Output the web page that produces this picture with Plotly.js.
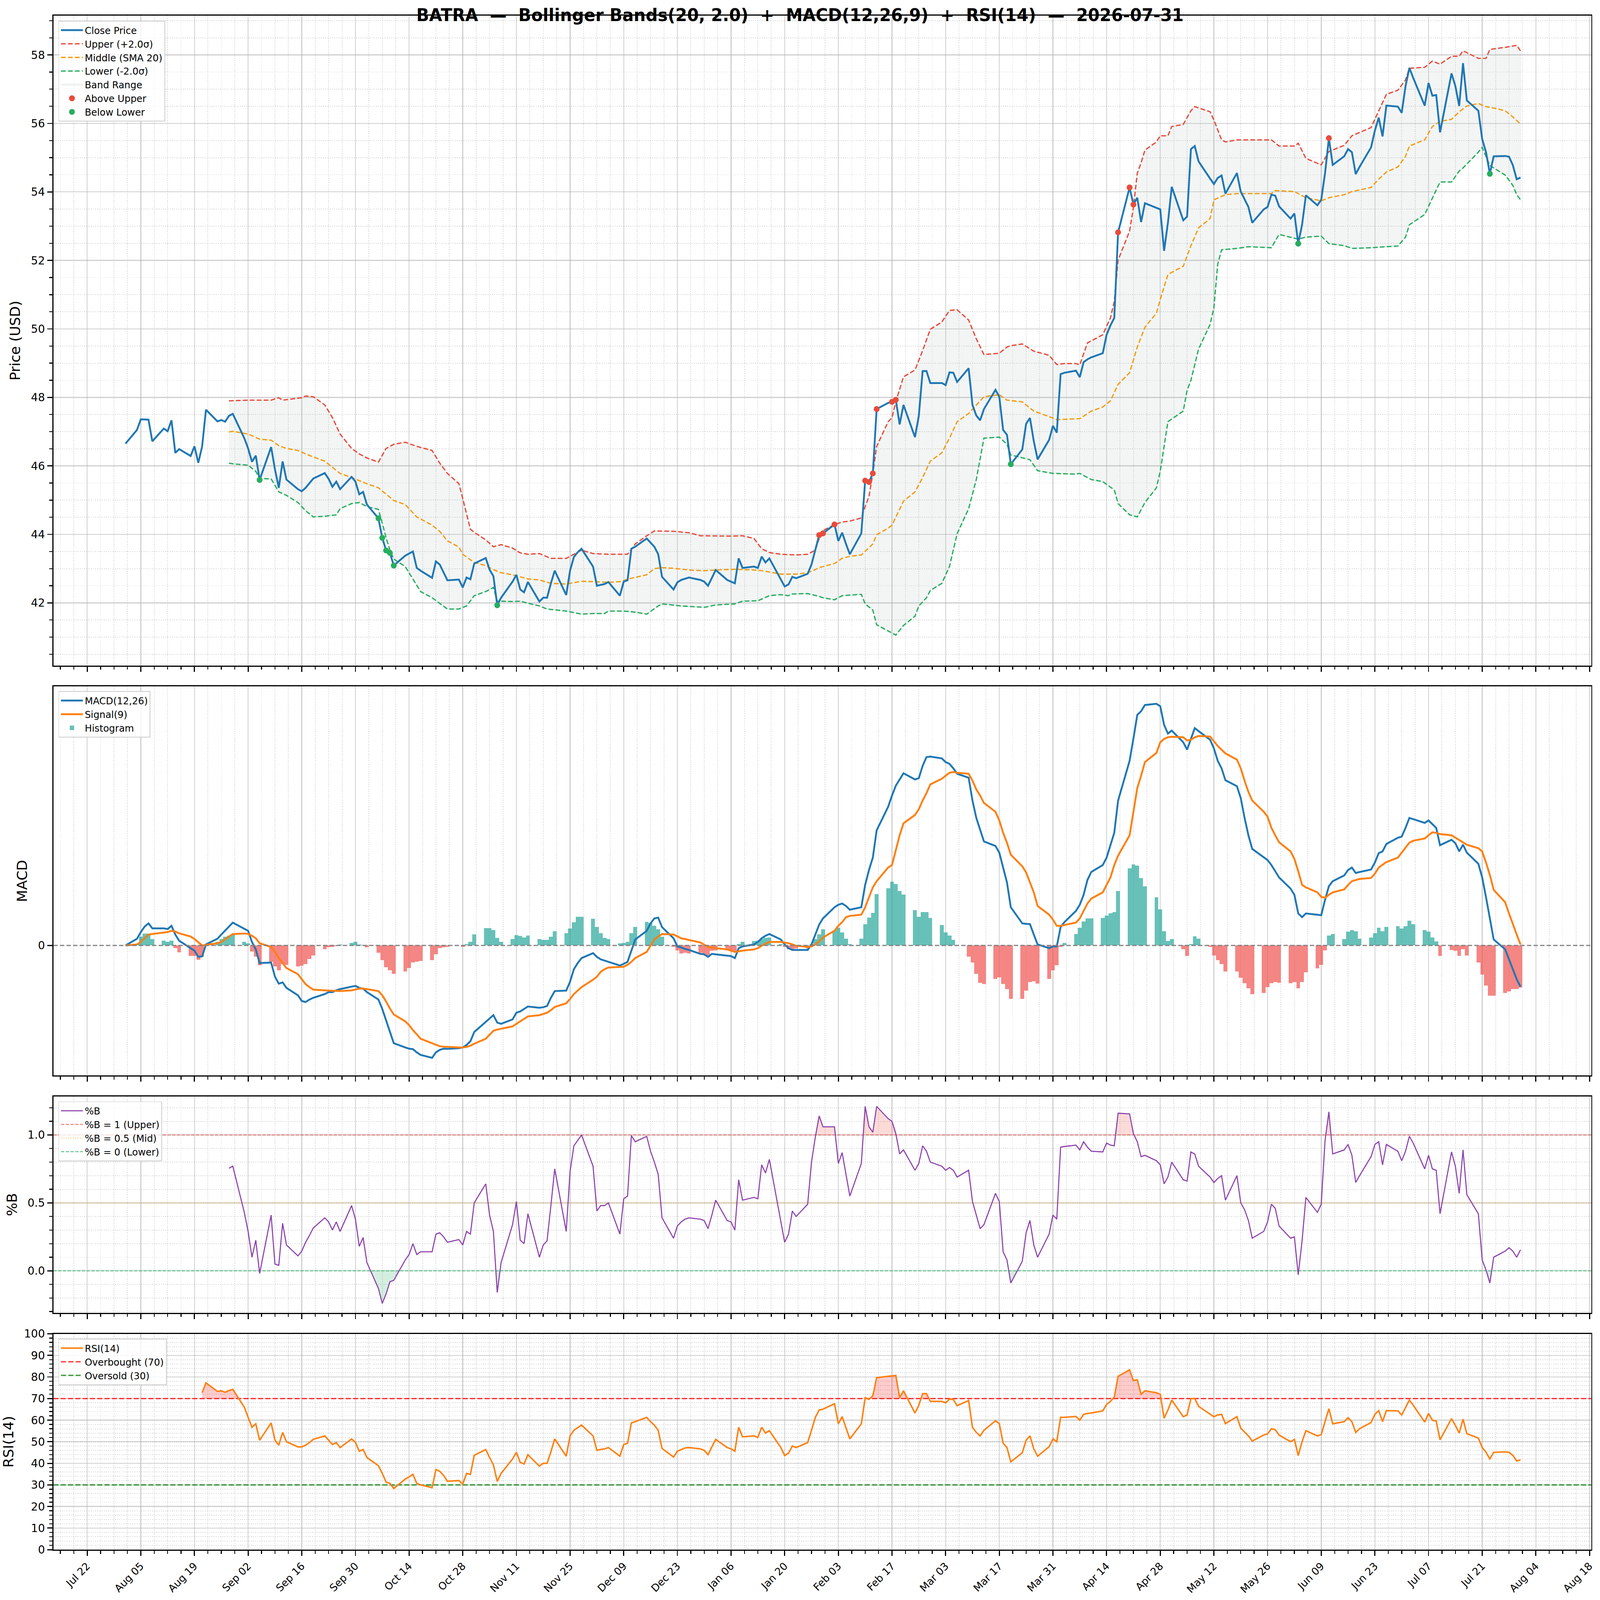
<!DOCTYPE html>
<html>
<head>
<meta charset="utf-8">
<script src="https://cdn.plot.ly/plotly-3.0.1.min.js"></script>
<style>html,body{margin:0;padding:0;background:#fff;overflow:hidden;}#wrap{transform-origin:0 0;width:4378px;height:4322px;}#chart{width:4378px;height:4322px;}</style>
</head>
<body>
<div id="wrap"><div id="chart"></div></div>
<script>
// ---------------- DATA ----------------
const startDate = '2025-08-01';
const endDate = '2026-07-31';

const close = [
  46.65,47.05,47.36,47.35,47.35,46.72,47.09,47.01,47.33,46.38,46.49,46.29,46.57,46.09,46.57,47.64,47.30,47.34,47.29,47.46,47.52,
  46.81,46.51,46.12,46.30,45.59,46.55,45.90,45.36,46.13,45.60,45.32,45.26,45.36,45.50,45.63,45.79,45.62,45.39,45.54,45.32,45.68,45.54,
  45.17,45.24,44.87,44.47,43.90,43.53,43.46,43.09,43.38,43.44,43.50,43.02,42.94,42.73,43.21,43.12,42.88,42.66,42.68,42.45,42.74,42.69,43.15,
  43.31,42.97,42.78,41.93,42.15,42.62,42.82,42.39,42.31,42.61,42.04,42.15,42.15,42.57,42.94,42.23,42.94,43.34,43.48,43.58,
  43.06,42.50,42.53,42.55,42.61,42.21,42.62,42.66,43.58,43.64,43.88,43.75,43.64,43.42,42.76,42.39,42.60,42.67,42.71,42.74,42.67,42.62,42.50,
  42.72,42.96,42.67,42.62,42.57,43.30,43.02,43.06,43.02,43.35,43.18,43.30,42.69,42.48,42.54,42.76,42.72,42.85,43.12,43.54,43.98,44.03,
  44.29,43.81,44.05,43.72,43.42,44.03,45.57,45.53,45.78,47.66,47.84,47.87,47.93,47.21,47.78,46.84,47.46,48.77,48.77,48.42,
  48.42,48.36,48.73,48.72,48.45,48.85,47.78,47.47,47.33,47.66,48.22,48.02,47.05,46.91,46.05,46.48,47.23,47.40,46.72,46.19,46.76,47.17,
  46.97,48.68,48.72,48.78,48.59,49.03,49.11,49.17,49.29,49.83,50.10,50.32,52.82,54.13,53.63,53.83,53.12,53.67,53.54,53.49,52.28,53.10,
  54.15,53.17,53.28,55.25,55.34,54.89,54.39,54.23,54.41,54.48,53.95,54.55,54.01,53.79,53.56,53.10,53.49,53.56,53.92,53.89,53.58,
  53.22,53.37,52.49,53.04,53.90,53.61,53.77,54.55,55.57,54.79,55.04,55.25,55.16,54.52,54.73,55.30,55.79,56.17,55.62,56.52,56.49,56.31,
  57.09,57.62,57.33,56.52,57.18,56.81,56.83,55.74,57.46,57.09,56.51,57.76,56.67,56.37,55.54,55.16,54.53,55.04,55.05,55.03,54.78,54.37,54.42
];

const upperBand = [
  ['2025-08-28',47.90],['2025-09-02',47.92],['2025-09-08',47.92],['2025-09-10',47.99],['2025-09-11',47.92],['2025-09-16',47.99],
  ['2025-09-17',48.04],['2025-09-19',48.02],['2025-09-22',47.78],['2025-09-24',47.41],['2025-09-26',46.93],['2025-09-29',46.51],
  ['2025-10-01',46.35],['2025-10-03',46.23],['2025-10-06',46.11],['2025-10-08',46.51],['2025-10-10',46.63],['2025-10-13',46.69],
  ['2025-10-16',46.57],['2025-10-20',46.45],['2025-10-22',46.08],['2025-10-24',45.78],['2025-10-27',45.48],['2025-10-28',45.05],
  ['2025-10-30',44.15],['2025-10-31',44.06],['2025-11-03',43.84],['2025-11-05',43.64],['2025-11-07',43.70],['2025-11-10',43.60],
  ['2025-11-12',43.46],['2025-11-14',43.42],['2025-11-17',43.44],['2025-11-20',43.30],['2025-11-24',43.30],['2025-11-26',43.42],
  ['2025-11-28',43.54],['2025-12-01',43.44],['2025-12-05',43.42],['2025-12-10',43.42],['2025-12-12',43.72],['2025-12-15',43.96],
  ['2025-12-17',44.10],['2025-12-22',44.09],['2025-12-26',44.05],['2025-12-29',43.96],['2026-01-06',43.95],['2026-01-09',43.96],
  ['2026-01-12',43.88],['2026-01-14',43.58],['2026-01-16',43.47],['2026-01-19',43.42],['2026-01-23',43.40],['2026-01-26',43.42],
  ['2026-01-28',43.54],['2026-01-29',43.88],['2026-01-30',44.11],['2026-02-02',44.29],['2026-02-04',44.36],['2026-02-06',44.39],
  ['2026-02-09',44.48],['2026-02-10',44.81],['2026-02-11',45.11],['2026-02-12',45.78],['2026-02-13',46.57],['2026-02-16',47.29],
  ['2026-02-17',47.41],['2026-02-18',47.88],['2026-02-20',48.60],['2026-02-23',48.80],['2026-02-25',49.37],['2026-02-27',49.99],
  ['2026-03-02',50.20],['2026-03-04',50.54],['2026-03-06',50.56],['2026-03-09',50.26],['2026-03-11',49.71],['2026-03-13',49.25],
  ['2026-03-17',49.29],['2026-03-19',49.47],['2026-03-20',49.51],['2026-03-23',49.56],['2026-03-26',49.35],['2026-03-30',49.23],
  ['2026-04-01',48.96],['2026-04-03',48.99],['2026-04-06',48.99],['2026-04-07',48.95],['2026-04-09',49.59],['2026-04-13',49.83],
  ['2026-04-15',50.32],['2026-04-16',50.80],['2026-04-17',52.01],['2026-04-20',52.86],['2026-04-21',53.55],['2026-04-22',54.55],
  ['2026-04-23',54.85],['2026-04-24',55.22],['2026-04-27',55.46],['2026-04-28',55.64],['2026-04-30',55.64],['2026-05-01',55.91],
  ['2026-05-04',55.97],['2026-05-06',56.37],['2026-05-07',56.49],['2026-05-11',56.34],['2026-05-12',56.10],['2026-05-14',55.52],
  ['2026-05-15',55.46],['2026-05-18',55.52],['2026-05-22',55.52],['2026-05-27',55.52],['2026-05-29',55.34],['2026-06-02',55.34],
  ['2026-06-03',55.42],['2026-06-05',54.98],['2026-06-09',54.79],['2026-06-11',55.18],['2026-06-15',55.36],['2026-06-17',55.64],
  ['2026-06-22',55.88],['2026-06-24',56.37],['2026-06-26',56.85],['2026-06-29',56.97],['2026-07-01',57.27],['2026-07-02',57.61],
  ['2026-07-06',57.64],['2026-07-08',57.82],['2026-07-10',57.73],['2026-07-13',57.96],['2026-07-15',57.96],['2026-07-16',58.12],
  ['2026-07-20',57.90],['2026-07-22',57.90],['2026-07-23',58.16],['2026-07-28',58.24],['2026-07-30',58.28],['2026-07-31',58.12]
];

const middleBand = [
  ['2025-08-28',46.99],['2025-08-29',47.01],['2025-09-02',46.93],['2025-09-05',46.78],['2025-09-08',46.75],['2025-09-10',46.59],
  ['2025-09-12',46.51],['2025-09-15',46.45],['2025-09-17',46.35],['2025-09-19',46.26],['2025-09-22',46.14],['2025-09-24',45.96],
  ['2025-09-26',45.78],['2025-09-29',45.66],['2025-10-01',45.57],['2025-10-03',45.48],['2025-10-06',45.36],['2025-10-08',45.17],
  ['2025-10-10',44.99],['2025-10-13',44.87],['2025-10-16',44.51],['2025-10-20',44.27],['2025-10-22',44.09],['2025-10-24',43.81],
  ['2025-10-27',43.63],['2025-10-28',43.42],['2025-10-31',43.18],['2025-11-03',43.09],['2025-11-05',42.97],['2025-11-07',42.88],
  ['2025-11-10',42.82],['2025-11-12',42.76],['2025-11-14',42.70],['2025-11-17',42.67],['2025-11-20',42.57],['2025-11-24',42.55],
  ['2025-11-28',42.63],['2025-12-01',42.62],['2025-12-05',42.60],['2025-12-08',42.62],['2025-12-11',42.72],['2025-12-15',42.82],
  ['2025-12-17',43.00],['2025-12-19',43.03],['2025-12-22',43.01],['2025-12-26',42.96],['2025-12-30',42.94],['2026-01-02',42.96],
  ['2026-01-07',42.98],['2026-01-12',42.96],['2026-01-14',42.94],['2026-01-16',42.90],['2026-01-19',42.84],['2026-01-23',42.84],
  ['2026-01-26',42.88],['2026-01-28',42.97],['2026-01-29',43.03],['2026-01-30',43.06],['2026-02-02',43.15],['2026-02-04',43.30],
  ['2026-02-06',43.36],['2026-02-09',43.40],['2026-02-12',43.72],['2026-02-13',43.99],['2026-02-16',44.18],['2026-02-17',44.27],
  ['2026-02-20',44.97],['2026-02-23',45.24],['2026-02-25',45.66],['2026-02-27',46.14],['2026-03-02',46.38],['2026-03-04',46.81],
  ['2026-03-06',47.29],['2026-03-09',47.53],['2026-03-11',47.78],['2026-03-13',48.02],['2026-03-17',48.08],['2026-03-19',47.92],
  ['2026-03-23',47.87],['2026-03-26',47.60],['2026-03-30',47.44],['2026-04-01',47.35],['2026-04-07',47.38],['2026-04-10',47.60],
  ['2026-04-13',47.72],['2026-04-15',47.90],['2026-04-17',48.38],['2026-04-20',48.72],['2026-04-22',49.47],['2026-04-24',50.05],
  ['2026-04-27',50.46],['2026-04-28',50.86],['2026-04-30',51.59],['2026-05-04',51.83],['2026-05-06',52.43],['2026-05-08',52.95],
  ['2026-05-11',53.22],['2026-05-12',53.77],['2026-05-15',53.92],['2026-05-18',53.95],['2026-05-27',53.95],['2026-05-28',54.04],
  ['2026-06-02',54.01],['2026-06-05',53.83],['2026-06-09',53.74],['2026-06-11',53.83],['2026-06-15',53.92],['2026-06-17',54.01],
  ['2026-06-22',54.13],['2026-06-24',54.37],['2026-06-26',54.58],['2026-06-29',54.73],['2026-07-01',55.04],['2026-07-02',55.34],
  ['2026-07-06',55.52],['2026-07-08',55.91],['2026-07-10',56.06],['2026-07-13',56.12],['2026-07-15',56.34],['2026-07-17',56.51],
  ['2026-07-20',56.58],['2026-07-22',56.49],['2026-07-24',56.45],['2026-07-27',56.37],['2026-07-29',56.19],['2026-07-31',55.98]
];

const lowerBand = [
  ['2025-08-28',46.08],['2025-08-29',46.06],['2025-09-02',46.02],['2025-09-04',45.84],['2025-09-05',45.63],['2025-09-08',45.62],
  ['2025-09-10',45.24],['2025-09-12',45.14],['2025-09-15',44.93],['2025-09-17',44.69],['2025-09-19',44.51],['2025-09-22',44.53],
  ['2025-09-25',44.57],['2025-09-26',44.75],['2025-09-29',44.90],['2025-10-01',44.93],['2025-10-03',44.81],['2025-10-06',44.73],
  ['2025-10-07',44.33],['2025-10-08',43.90],['2025-10-09',43.54],['2025-10-10',43.28],['2025-10-13',43.06],['2025-10-15',42.70],
  ['2025-10-17',42.33],['2025-10-20',42.15],['2025-10-22',41.99],['2025-10-24',41.82],['2025-10-27',41.82],['2025-10-29',41.91],
  ['2025-10-31',42.21],['2025-11-03',42.33],['2025-11-05',42.45],['2025-11-06',42.05],['2025-11-10',42.04],['2025-11-12',42.05],
  ['2025-11-14',41.99],['2025-11-17',41.91],['2025-11-19',41.82],['2025-11-24',41.76],['2025-11-28',41.67],['2025-12-01',41.69],
  ['2025-12-04',41.69],['2025-12-05',41.76],['2025-12-09',41.76],['2025-12-12',41.73],['2025-12-15',41.67],['2025-12-18',41.91],
  ['2025-12-19',41.97],['2025-12-24',41.91],['2025-12-30',41.87],['2026-01-02',41.94],['2026-01-07',41.97],['2026-01-09',42.05],
  ['2026-01-13',42.06],['2026-01-16',42.21],['2026-01-19',42.24],['2026-01-21',42.21],['2026-01-22',42.26],['2026-01-26',42.27],
  ['2026-01-29',42.19],['2026-01-30',42.15],['2026-02-02',42.09],['2026-02-04',42.21],['2026-02-09',42.25],['2026-02-10',41.97],
  ['2026-02-12',41.79],['2026-02-13',41.36],['2026-02-16',41.18],['2026-02-18',41.06],['2026-02-20',41.34],['2026-02-23',41.61],
  ['2026-02-24',41.91],['2026-02-26',42.15],['2026-02-27',42.36],['2026-03-02',42.57],['2026-03-04',43.06],['2026-03-06',44.02],
  ['2026-03-09',44.75],['2026-03-11',45.60],['2026-03-13',46.81],['2026-03-17',46.84],['2026-03-19',46.63],['2026-03-20',46.32],
  ['2026-03-25',46.18],['2026-03-27',45.86],['2026-03-31',45.78],['2026-04-06',45.76],['2026-04-07',45.78],['2026-04-10',45.60],
  ['2026-04-13',45.54],['2026-04-16',45.30],['2026-04-17',44.90],['2026-04-20',44.57],['2026-04-22',44.51],['2026-04-24',44.93],
  ['2026-04-27',45.36],['2026-04-28',45.84],['2026-04-30',47.29],['2026-05-04',47.60],['2026-05-05',48.20],['2026-05-06',48.50],
  ['2026-05-08',49.41],['2026-05-11',50.13],['2026-05-12',50.62],['2026-05-13',51.89],['2026-05-14',52.31],['2026-05-18',52.35],
  ['2026-05-21',52.40],['2026-05-27',52.37],['2026-05-29',52.76],['2026-06-01',52.68],['2026-06-03',52.62],['2026-06-05',52.68],
  ['2026-06-09',52.71],['2026-06-11',52.49],['2026-06-15',52.43],['2026-06-17',52.35],['2026-06-22',52.37],['2026-06-26',52.40],
  ['2026-06-29',52.42],['2026-07-01',52.68],['2026-07-02',53.04],['2026-07-06',53.34],['2026-07-07',53.58],['2026-07-10',54.29],
  ['2026-07-13',54.29],['2026-07-15',54.61],['2026-07-16',54.70],['2026-07-20',55.16],['2026-07-21',55.30],['2026-07-23',54.77],
  ['2026-07-27',54.49],['2026-07-29',54.19],['2026-07-30',53.92],['2026-07-31',53.77]
];

const aboveUpper = [
  ['2026-01-29',43.98],['2026-01-30',44.03],['2026-02-02',44.29],['2026-02-10',45.57],['2026-02-11',45.53],['2026-02-12',45.78],
  ['2026-02-13',47.66],['2026-02-17',47.87],['2026-02-18',47.93],['2026-04-17',52.82],['2026-04-20',54.13],['2026-04-21',53.63],
  ['2026-06-11',55.57]
];
const belowLower = [
  ['2025-09-05',45.59],['2025-10-06',44.47],['2025-10-07',43.90],['2025-10-08',43.53],['2025-10-09',43.46],['2025-10-10',43.09],
  ['2025-11-06',41.93],['2026-03-20',46.05],['2026-06-03',52.49],['2026-07-23',54.53]
];

const macd = [
  0,0.027,0.054,0.076,0.089,0.069,0.069,0.066,0.079,0.044,0.019,-0.011,-0.021,-0.046,-0.044,0.004,0.027,0.044,0.059,0.076,0.092,
  0.066,0.059,0.014,-0.016,-0.071,-0.069,-0.126,-0.154,-0.149,-0.171,-0.201,-0.224,-0.228,-0.218,-0.211,-0.196,-0.188,-0.188,-0.181,-0.176,-0.166,-0.163,
  -0.171,-0.174,-0.188,-0.218,-0.256,-0.301,-0.346,-0.394,-0.411,-0.416,-0.418,-0.431,-0.441,-0.453,-0.431,-0.421,-0.416,-0.417,-0.414,-0.411,-0.401,-0.386,-0.349,
  -0.308,-0.294,-0.281,-0.311,-0.316,-0.298,-0.271,-0.266,-0.256,-0.246,-0.251,-0.249,-0.244,-0.211,-0.184,-0.182,-0.146,-0.096,-0.071,-0.051,
  -0.031,-0.046,-0.056,-0.061,-0.066,-0.081,-0.074,-0.066,-0.021,0.024,0.059,0.089,0.109,0.112,0.074,0.029,-0.004,-0.008,-0.014,-0.018,-0.034,-0.036,-0.046,
  -0.034,-0.036,-0.041,-0.043,-0.051,-0.011,-0.004,0.004,0.014,0.029,0.039,0.046,0.024,0.004,-0.011,-0.018,-0.018,-0.018,0.004,0.044,0.084,0.109,
  0.154,0.164,0.169,0.159,0.144,0.154,0.244,0.304,0.354,0.464,0.559,0.604,0.644,0.669,0.694,0.669,0.674,0.724,0.759,0.761,
  0.754,0.739,0.732,0.714,0.692,0.676,0.584,0.514,0.464,0.419,0.401,0.374,0.314,0.254,0.154,0.089,0.087,0.086,0.044,0.004,-0.011,-0.004,
  -0.004,0.074,0.094,0.139,0.164,0.204,0.264,0.296,0.324,0.354,0.404,0.454,0.584,0.744,0.834,0.929,0.944,0.969,0.974,0.964,0.889,0.854,
  0.866,0.819,0.789,0.834,0.876,0.864,0.829,0.794,0.744,0.714,0.666,0.642,0.594,0.514,0.444,0.389,0.354,0.344,0.324,0.299,0.274,
  0.229,0.204,0.129,0.114,0.129,0.124,0.122,0.184,0.239,0.259,0.282,0.304,0.314,0.292,0.296,0.306,0.334,0.372,0.379,0.409,0.434,0.439,
  0.474,0.514,0.509,0.494,0.504,0.489,0.474,0.404,0.426,0.412,0.379,0.406,0.374,0.329,0.274,0.194,0.104,0.024,-0.016,-0.056,-0.096,-0.136,-0.166
];

const signal = [
  0,0.004,0.014,0.029,0.044,0.046,0.051,0.054,0.059,0.056,0.049,0.036,0.026,0.014,0,0.002,0.009,0.014,0.024,0.036,0.046,
  0.048,0.047,0.039,0.029,0.009,-0.006,-0.026,-0.051,-0.071,-0.091,-0.116,-0.136,-0.156,-0.168,-0.178,-0.181,-0.182,-0.183,-0.184,-0.184,-0.181,-0.178,
  -0.174,-0.174,-0.176,-0.184,-0.201,-0.226,-0.254,-0.278,-0.306,-0.321,-0.341,-0.358,-0.376,-0.394,-0.400,-0.406,-0.408,-0.409,-0.411,-0.411,-0.409,-0.404,-0.396,
  -0.376,-0.361,-0.344,-0.339,-0.336,-0.326,-0.316,-0.306,-0.296,-0.286,-0.281,-0.276,-0.271,-0.261,-0.248,-0.233,-0.216,-0.196,-0.181,-0.168,
  -0.138,-0.126,-0.106,-0.096,-0.089,-0.088,-0.086,-0.078,-0.066,-0.051,-0.026,-0.001,0.024,0.036,0.046,0.044,0.036,0.029,0.026,0.022,0.012,0.004,-0.006,
  -0.009,-0.011,-0.016,-0.021,-0.026,-0.024,-0.021,-0.016,-0.011,-0.001,0.006,0.014,0.014,0.012,0.009,0.004,-0.001,-0.006,-0.004,0.004,0.016,0.032,
  0.059,0.079,0.094,0.114,0.119,0.124,0.154,0.194,0.234,0.259,0.314,0.324,0.384,0.444,0.492,0.526,0.549,0.584,0.614,0.649,
  0.672,0.684,0.696,0.699,0.696,0.692,0.664,0.629,0.604,0.574,0.539,0.504,0.454,0.414,0.366,0.319,0.294,0.254,0.214,0.159,0.124,0.104,
  0.079,0.079,0.082,0.092,0.109,0.139,0.169,0.189,0.214,0.244,0.274,0.324,0.362,0.444,0.544,0.634,0.684,0.739,0.776,0.819,0.832,0.839,
  0.841,0.839,0.826,0.829,0.839,0.844,0.842,0.824,0.804,0.789,0.774,0.749,0.714,0.664,0.619,0.584,0.539,0.519,0.474,0.444,0.416,
  0.379,0.349,0.299,0.244,0.234,0.214,0.196,0.192,0.204,0.214,0.226,0.244,0.259,0.264,0.268,0.272,0.289,0.314,0.324,0.336,0.354,0.374,
  0.394,0.414,0.422,0.431,0.444,0.456,0.454,0.449,0.444,0.434,0.424,0.416,0.406,0.392,0.379,0.334,0.284,0.224,0.174,0.129,0.084,0.044,0.004
];

const hist = [
  0,0.005,0.035,0.047,0.047,0.025,0.020,0.015,0.020,-0.010,-0.028,-0.042,-0.042,-0.058,-0.045,0.003,0.015,0.025,0.035,0.040,0.044,
  0.015,0.008,-0.025,-0.045,-0.080,-0.065,-0.085,-0.100,-0.075,-0.078,-0.085,-0.082,-0.075,-0.055,-0.040,-0.015,-0.008,-0.005,-0.002,0.003,0.010,0.015,
  0.003,0.002,-0.008,-0.030,-0.060,-0.088,-0.100,-0.115,-0.105,-0.090,-0.068,-0.065,-0.062,-0.060,-0.035,-0.010,-0.008,-0.005,0.000,-0.005,0.005,0.015,0.045,
  0.070,0.070,0.062,0.030,0.015,0.025,0.042,0.038,0.032,0.040,0.025,0.022,0.022,0.035,0.058,0.050,0.068,0.093,0.115,0.115,
  0.108,0.075,0.050,0.030,0.025,0.008,0.010,0.015,0.050,0.075,0.095,0.090,0.080,0.065,0.035,-0.005,-0.020,-0.032,-0.030,-0.032,-0.030,-0.038,-0.040,
  -0.022,-0.020,-0.020,-0.022,-0.025,0.005,0.015,0.018,0.020,0.025,0.030,0.032,0.005,-0.005,-0.015,-0.015,-0.012,-0.012,0.005,0.025,0.045,0.065,
  0.060,0.072,0.052,0.027,0.005,0.028,0.085,0.112,0.132,0.206,0.230,0.257,0.248,0.220,0.205,0.143,0.116,0.135,0.135,0.110,
  0.082,0.052,0.040,0.022,-0.003,-0.045,-0.068,-0.115,-0.150,-0.155,-0.135,-0.128,-0.155,-0.175,-0.215,-0.215,-0.182,-0.148,-0.145,-0.153,-0.135,-0.100,
  -0.080,-0.005,0.010,0.046,0.071,0.096,0.109,0.109,0.110,0.120,0.130,0.135,0.220,0.310,0.326,0.322,0.272,0.238,0.194,0.146,0.058,0.018,
  0.025,-0.015,-0.042,0.005,0.037,0.027,-0.005,-0.040,-0.060,-0.075,-0.105,-0.105,-0.130,-0.152,-0.172,-0.196,-0.192,-0.168,-0.152,-0.148,-0.150,
  -0.152,-0.148,-0.172,-0.148,-0.108,-0.092,-0.078,-0.020,0.040,0.046,0.025,0.055,0.062,0.058,0.028,0.032,0.050,0.072,0.058,0.074,0.078,0.068,
  0.078,0.100,0.085,0.062,0.056,0.032,0.016,-0.042,-0.018,-0.022,-0.042,-0.015,-0.040,-0.068,-0.118,-0.162,-0.202,-0.202,-0.192,-0.185,-0.175,-0.175,-0.170
];

// %B starts at the 20th session (2025-08-28)
const pctB = [
  0.755,0.77,
  0.43,0.29,0.10,0.225,-0.02,0.41,0.05,0.04,0.35,0.19,0.11,0.145,0.21,0.26,0.315,0.39,0.36,0.30,0.36,0.29,0.48,0.38,
  0.18,0.245,0.06,-0.13,-0.24,-0.17,-0.08,-0.07,0.08,0.12,0.20,0.12,0.14,0.14,0.27,0.28,0.25,0.21,0.23,0.19,0.29,0.27,0.50,
  0.64,0.41,0.29,-0.16,0.06,0.34,0.51,0.225,0.20,0.42,0.10,0.19,0.22,0.48,0.75,0.29,0.73,0.92,0.96,1.00,
  0.77,0.44,0.48,0.48,0.50,0.27,0.53,0.55,0.995,0.95,0.99,0.88,0.80,0.71,0.39,0.24,0.33,0.36,0.38,0.39,0.38,0.37,0.31,
  0.41,0.52,0.37,0.36,0.30,0.67,0.52,0.54,0.53,0.78,0.72,0.82,0.37,0.21,0.27,0.44,0.40,0.49,0.80,0.985,1.14,1.06,
  1.06,0.79,0.87,0.71,0.55,0.79,1.21,1.06,1.02,1.21,1.12,1.10,1.01,0.86,0.89,0.74,0.79,0.92,0.88,0.80,
  0.77,0.74,0.76,0.74,0.69,0.74,0.51,0.41,0.31,0.34,0.57,0.51,0.14,0.08,-0.09,0.07,0.28,0.37,0.19,0.10,0.27,0.41,
  0.38,0.91,0.915,0.925,0.89,0.95,0.91,0.88,0.875,0.94,0.925,0.92,1.16,1.155,1.01,0.95,0.84,0.85,0.81,0.78,0.64,0.69,
  0.80,0.67,0.66,0.875,0.86,0.77,0.69,0.65,0.68,0.70,0.52,0.70,0.50,0.45,0.37,0.24,0.29,0.36,0.49,0.46,0.33,
  0.24,0.25,-0.03,0.22,0.54,0.43,0.49,0.96,1.17,0.86,0.89,0.93,0.85,0.65,0.70,0.84,0.93,0.95,0.78,0.93,0.88,0.81,
  0.88,0.99,0.94,0.75,0.85,0.75,0.74,0.42,0.875,0.77,0.57,0.89,0.56,0.42,0.08,0.006,-0.09,0.10,0.145,0.17,0.145,0.10,0.155
];

// RSI starts at the 15th session (2025-08-21)
const rsi = [
  72.7,77.3,73.3,73.6,72.9,73.7,74.3,
  66.0,61.3,56.7,58.3,50.7,58.7,50.7,48.4,54.3,50.0,47.6,47.6,48.4,49.6,51.1,52.7,50.7,48.7,49.6,47.3,51.3,49.7,
  45.6,46.4,42.7,38.9,35.3,31.3,30.7,28.3,32.7,33.7,34.9,30.7,30.0,28.7,37.1,36.3,34.4,31.7,32.0,30.4,35.3,34.9,43.7,
  46.4,42.7,39.3,31.6,35.3,42.0,45.1,40.4,39.7,44.0,38.7,40.0,40.0,45.3,51.3,43.3,52.7,55.3,56.4,57.7,
  52.7,46.0,46.4,46.7,47.3,43.3,48.7,49.3,58.7,59.3,61.3,59.3,57.7,55.3,46.9,42.9,45.6,46.4,47.1,47.3,46.7,46.0,44.0,
  47.6,51.1,47.3,46.7,45.6,56.7,52.3,52.7,52.0,56.7,54.0,55.1,47.3,43.6,44.7,48.0,47.3,49.6,55.3,61.3,64.7,65.1,
  67.6,58.3,61.6,56.3,51.3,58.3,70.4,69.6,71.3,79.7,80.3,80.4,80.7,70.4,73.6,63.3,66.9,72.3,72.3,68.7,
  68.7,68.0,69.7,69.6,66.7,69.1,56.7,54.3,52.7,55.3,59.7,58.4,49.3,47.3,40.7,44.9,50.7,52.7,46.7,43.3,47.7,51.3,
  50.0,61.3,61.3,61.7,60.0,62.7,63.1,63.3,64.3,67.3,68.7,70.7,80.3,83.3,78.3,78.7,72.0,73.6,72.7,72.0,60.9,64.7,
  69.3,61.6,62.4,70.0,70.0,66.4,62.7,61.6,62.4,62.7,58.4,61.6,56.3,54.4,52.7,50.3,53.1,53.6,56.0,55.6,53.1,
  50.0,51.1,43.6,50.0,55.1,52.7,53.3,59.6,65.3,58.3,59.3,61.1,59.3,54.3,56.0,58.9,62.7,64.4,59.3,64.4,64.3,62.4,
  66.0,69.3,66.9,59.1,63.1,60.0,59.6,50.9,60.7,57.6,54.0,60.4,53.7,51.7,47.3,45.1,42.0,45.1,45.3,45.1,43.7,41.1,41.6
];

const titleText = 'BATRA  —  Bollinger Bands(20, 2.0)  +  MACD(12,26,9)  +  RSI(14)  —  2026-07-31';

// ---------------- BUILD ----------------
function businessDays(s, e) {
  const out = [];
  let t = Date.parse(s + 'T00:00:00Z');
  const end = Date.parse(e + 'T00:00:00Z');
  while (t <= end) {
    const d = new Date(t);
    const w = d.getUTCDay();
    if (w !== 0 && w !== 6) out.push(d.toISOString().slice(0, 10));
    t += 86400000;
  }
  return out;
}
const dates = businessDays(startDate, endDate);
const pctBDates = dates.slice(dates.length - pctB.length);
const rsiDates = dates.slice(dates.length - rsi.length);

const XR = ['2025-07-13 04:20', '2026-08-18 10:50'];
const F = 'DejaVu Sans';
const GRID = 'rgba(176,176,176,0.6)';
const MGRID = 'rgba(176,176,176,0.45)';

function ms(d) { return Date.parse(d + 'T00:00:00Z'); }

function fillRuns(xs, ys, thr, above) {
  const X = [], Y = [];
  const t = xs.map(ms);
  let run = null;
  const cond = v => above ? v > thr : v < thr;
  const cross = i => t[i - 1] + (thr - ys[i - 1]) / (ys[i] - ys[i - 1]) * (t[i] - t[i - 1]);
  function flush() {
    const n = run.x.length;
    for (let k = 0; k < n; k++) { X.push(run.x[k]); Y.push(run.y[k]); }
    for (let k = n - 1; k >= 0; k--) { X.push(run.x[k]); Y.push(thr); }
    X.push(null); Y.push(null);
    run = null;
  }
  for (let i = 0; i < ys.length; i++) {
    if (cond(ys[i])) {
      if (!run) {
        run = {x: [], y: []};
        if (i > 0) { run.x.push(cross(i)); run.y.push(thr); }
      }
      run.x.push(t[i]); run.y.push(ys[i]);
    } else if (run) {
      run.x.push(cross(i)); run.y.push(thr);
      flush();
    }
  }
  if (run) flush();
  return {x: X, y: Y};
}

const dashBand = '13px,6px';
const traces = [];

const bandX = upperBand.map(p => p[0]).concat(lowerBand.map(p => p[0]).reverse());
const bandY = upperBand.map(p => p[1]).concat(lowerBand.map(p => p[1]).reverse());
traces.push({type: 'scatter', mode: 'lines', x: bandX, y: bandY, fill: 'toself',
  fillcolor: 'rgba(149,165,166,0.11)', line: {color: 'rgba(149,165,166,0.18)', width: 1.5},
  name: 'Band Range', legendrank: 5, xaxis: 'x', yaxis: 'y', legend: 'legend'});
traces.push({type: 'scatter', mode: 'lines', x: upperBand.map(p => p[0]), y: upperBand.map(p => p[1]),
  name: 'Upper (+2.0σ)', line: {color: '#e74c3c', width: 3.5, dash: dashBand}, legendrank: 2, xaxis: 'x', yaxis: 'y', legend: 'legend'});
traces.push({type: 'scatter', mode: 'lines', x: middleBand.map(p => p[0]), y: middleBand.map(p => p[1]),
  name: 'Middle (SMA 20)', line: {color: '#f39c12', width: 3.5, dash: dashBand}, legendrank: 3, xaxis: 'x', yaxis: 'y', legend: 'legend'});
traces.push({type: 'scatter', mode: 'lines', x: lowerBand.map(p => p[0]), y: lowerBand.map(p => p[1]),
  name: 'Lower (-2.0σ)', line: {color: '#27ae60', width: 3.5, dash: dashBand}, legendrank: 4, xaxis: 'x', yaxis: 'y', legend: 'legend'});
traces.push({type: 'scatter', mode: 'lines', x: dates.slice(0, close.length), y: close,
  name: 'Close Price', line: {color: '#1f77b4', width: 5}, legendrank: 1, xaxis: 'x', yaxis: 'y', legend: 'legend'});
traces.push({type: 'scatter', mode: 'markers', x: aboveUpper.map(p => p[0]), y: aboveUpper.map(p => p[1]),
  name: 'Above Upper', marker: {color: '#e74c3c', size: 16}, legendrank: 6, xaxis: 'x', yaxis: 'y', legend: 'legend'});
traces.push({type: 'scatter', mode: 'markers', x: belowLower.map(p => p[0]), y: belowLower.map(p => p[1]),
  name: 'Below Lower', marker: {color: '#27ae60', size: 16}, legendrank: 7, xaxis: 'x', yaxis: 'y', legend: 'legend'});

traces.push({type: 'bar', x: dates.slice(0, hist.length), y: hist, width: 86400000,
  marker: {color: hist.map(v => v >= 0 ? 'rgba(38,166,154,0.7)' : 'rgba(239,83,80,0.7)'), line: {width: 0}},
  name: 'Histogram', legendrank: 3, xaxis: 'x2', yaxis: 'y2', legend: 'legend2'});
traces.push({type: 'scatter', mode: 'lines', x: dates.slice(0, macd.length), y: macd,
  name: 'MACD(12,26)', line: {color: '#1f77b4', width: 5}, legendrank: 1, xaxis: 'x2', yaxis: 'y2', legend: 'legend2'});
traces.push({type: 'scatter', mode: 'lines', x: dates.slice(0, signal.length), y: signal,
  name: 'Signal(9)', line: {color: '#ff7f0e', width: 5}, legendrank: 2, xaxis: 'x2', yaxis: 'y2', legend: 'legend2'});

const bUp = fillRuns(pctBDates, pctB, 1, true);
const bDn = fillRuns(pctBDates, pctB, 0, false);
traces.push({type: 'scatter', mode: 'none', x: bUp.x, y: bUp.y, fill: 'toself', fillcolor: 'rgba(231,76,60,0.2)',
  showlegend: false, xaxis: 'x3', yaxis: 'y3', legend: 'legend3'});
traces.push({type: 'scatter', mode: 'none', x: bDn.x, y: bDn.y, fill: 'toself', fillcolor: 'rgba(39,174,96,0.2)',
  showlegend: false, xaxis: 'x3', yaxis: 'y3', legend: 'legend3'});
traces.push({type: 'scatter', mode: 'lines', x: XR, y: [1, 1], name: '%B = 1 (Upper)',
  line: {color: 'rgba(231,76,60,0.7)', width: 2.5, dash: '9px,4px'}, legendrank: 2, xaxis: 'x3', yaxis: 'y3', legend: 'legend3'});
traces.push({type: 'scatter', mode: 'lines', x: XR, y: [0.5, 0.5], name: '%B = 0.5 (Mid)',
  line: {color: 'rgba(243,156,18,0.6)', width: 2.5, dash: '2.5px,4px'}, legendrank: 3, xaxis: 'x3', yaxis: 'y3', legend: 'legend3'});
traces.push({type: 'scatter', mode: 'lines', x: XR, y: [0, 0], name: '%B = 0 (Lower)',
  line: {color: 'rgba(39,174,96,0.7)', width: 2.5, dash: '9px,4px'}, legendrank: 4, xaxis: 'x3', yaxis: 'y3', legend: 'legend3'});
traces.push({type: 'scatter', mode: 'lines', x: pctBDates, y: pctB, name: '%B',
  line: {color: '#8e44ad', width: 3}, legendrank: 1, xaxis: 'x3', yaxis: 'y3', legend: 'legend3'});

const rUp = fillRuns(rsiDates, rsi, 70, true);
const rDn = fillRuns(rsiDates, rsi, 30, false);
traces.push({type: 'scatter', mode: 'none', x: rUp.x, y: rUp.y, fill: 'toself', fillcolor: 'rgba(255,0,0,0.2)',
  showlegend: false, xaxis: 'x4', yaxis: 'y4', legend: 'legend4'});
traces.push({type: 'scatter', mode: 'none', x: rDn.x, y: rDn.y, fill: 'toself', fillcolor: 'rgba(0,128,0,0.2)',
  showlegend: false, xaxis: 'x4', yaxis: 'y4', legend: 'legend4'});
traces.push({type: 'scatter', mode: 'lines', x: XR, y: [70, 70], name: 'Overbought (70)',
  line: {color: 'rgba(255,0,0,0.8)', width: 3.5, dash: '14px,6px'}, legendrank: 2, xaxis: 'x4', yaxis: 'y4', legend: 'legend4'});
traces.push({type: 'scatter', mode: 'lines', x: XR, y: [30, 30], name: 'Oversold (30)',
  line: {color: 'rgba(0,128,0,0.8)', width: 3.5, dash: '14px,6px'}, legendrank: 3, xaxis: 'x4', yaxis: 'y4', legend: 'legend4'});
traces.push({type: 'scatter', mode: 'lines', x: rsiDates, y: rsi, name: 'RSI(14)',
  line: {color: '#ff7f0e', width: 4}, legendrank: 1, xaxis: 'x4', yaxis: 'y4', legend: 'legend4'});

function xAxis(anchor, labels, master) {
  const a = {
    type: 'date', range: XR, autorange: false, anchor: anchor,
    tick0: '2025-07-22', dtick: 14 * 86400000, tickformat: '%b %d', tickangle: -45,
    showticklabels: labels, ticks: 'outside', ticklen: 14, tickwidth: 3, tickcolor: '#000',
    tickfont: {family: F, size: 28, color: '#000'},
    showline: true, linecolor: '#000', linewidth: 3, mirror: true,
    showgrid: true, gridcolor: GRID, gridwidth: 2.5, zeroline: false, automargin: false,
    minor: {tick0: '2025-07-22', dtick: 3.5 * 86400000, ticks: 'outside', ticklen: 8, tickwidth: 2.5, tickcolor: '#000',
      showgrid: true, gridcolor: MGRID, gridwidth: 2, griddash: 'dot'}
  };
  if (!master) a.matches = 'x';
  return a;
}
function yAxis(domain, range, title, extra) {
  return Object.assign({
    domain: domain, range: range, autorange: false,
    ticks: 'outside', ticklen: 14, tickwidth: 3, tickcolor: '#000',
    tickfont: {family: F, size: 30, color: '#000'},
    showline: true, linecolor: '#000', linewidth: 3, mirror: true,
    showgrid: true, gridcolor: GRID, gridwidth: 2.5, zeroline: false, automargin: false,
    title: {text: title, font: {family: F, size: 38, color: '#000'}, standoff: 18}
  }, extra);
}
function legendAt(y) {
  return {x: 0.0033, y: y, xanchor: 'left', yanchor: 'top', xref: 'paper', yref: 'paper',
    bgcolor: 'rgba(255,255,255,0.8)', bordercolor: 'rgba(204,204,204,1)', borderwidth: 2,
    font: {family: F, size: 26, color: '#000'}, itemwidth: 60, traceorder: 'normal'};
}
function minorY(d) {
  return {dtick: d, tick0: 0, ticks: 'outside', ticklen: 8, tickwidth: 2.5, tickcolor: '#000',
    showgrid: true, gridcolor: MGRID, gridwidth: 2, griddash: 'dot'};
}

const layout = {
  width: 4378, height: 4322, autosize: false,
  margin: {l: 146, r: 24, t: 42, b: 136, pad: 0},
  paper_bgcolor: '#ffffff', plot_bgcolor: '#ffffff',
  font: {family: F, size: 30, color: '#000'},
  showlegend: true,
  bargap: 0,
  title: {text: '<b>' + titleText.replace(/  /g, '\u00a0\u00a0') + '</b>',
    font: {family: F, size: 46, color: '#000'},
    x: 0.5, xref: 'container', xanchor: 'center', y: 1 - 41 / 4322, yref: 'container', yanchor: 'middle'},
  xaxis: xAxis('y', false, true),
  xaxis2: xAxis('y2', false, false),
  xaxis3: xAxis('y3', false, false),
  xaxis4: xAxis('y4', true, false),
  yaxis: yAxis([0.5763, 1], [40.17, 59.15], 'Price (USD)', {tick0: 0, dtick: 2, minor: minorY(0.5)}),
  yaxis2: yAxis([0.3091, 0.5627], [-0.524, 1.044], 'MACD', {tickmode: 'array', tickvals: [0], ticktext: ['0'], showgrid: false}),
  yaxis3: yAxis([0.1544, 0.2954], [-0.309, 1.283], '%B', {tick0: 0, dtick: 0.5, tickformat: '.1f', minor: minorY(0.1)}),
  yaxis4: yAxis([0, 0.1407], [0, 100], 'RSI(14)', {tick0: 0, dtick: 10, minor: minorY(2)}),
  legend: legendAt(0.9966),
  legend2: legendAt(0.5596),
  legend3: legendAt(0.2922),
  legend4: legendAt(0.1375),
  shapes: [
    {type: 'line', xref: 'x2 domain', x0: 0, x1: 1, yref: 'y2', y0: 0, y1: 0, layer: 'above',
      line: {color: 'rgba(128,128,128,0.9)', width: 3.5, dash: '12px,6px'}},
    {type: 'line', xref: 'x4 domain', x0: 0, x1: 1, yref: 'y4', y0: 50, y1: 50, layer: 'below',
      line: {color: 'rgba(128,128,128,0.6)', width: 2.5, dash: '3px,3px'}}
  ]
};

Plotly.newPlot('chart', traces, layout, {displayModeBar: false, staticPlot: true}).then(function () {
  // fit the 4378x4322 figure into whatever viewport the photographer provides
  const sx = window.innerWidth / 4378, sy = window.innerHeight / 4322;
  if (Math.abs(sx - 1) > 0.002 || Math.abs(sy - 1) > 0.002) {
    document.getElementById('wrap').style.transform = 'scale(' + sx + ',' + sy + ')';
  }
});
</script>
</body>
</html>
